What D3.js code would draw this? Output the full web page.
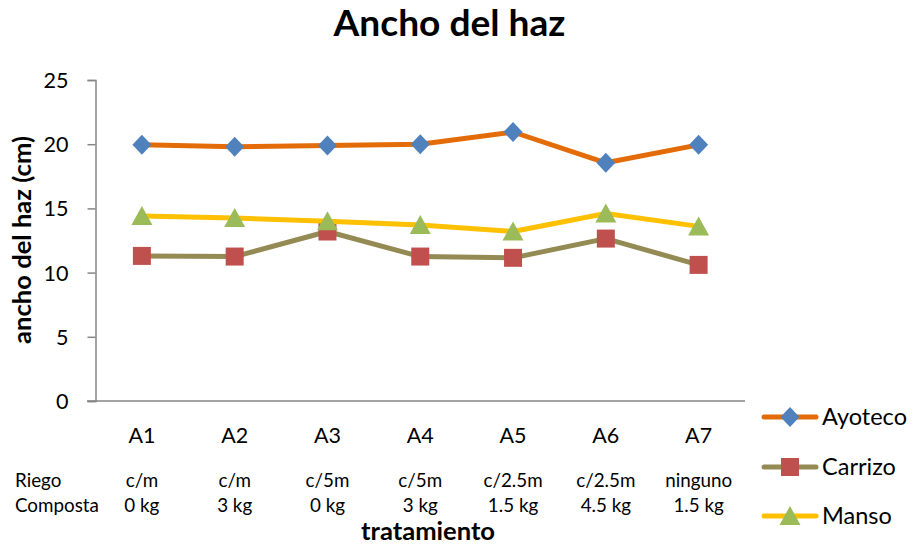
<!DOCTYPE html>
<html>
<head>
<meta charset="utf-8">
<script src="https://cdn.jsdelivr.net/npm/d3@7"></script>
<style>
  html, body { margin: 0; padding: 0; background: #fff; }
  svg { display: block; font-family: Lato, "Open Sans", sans-serif; }
</style>
</head>
<body>
<svg id="chart" width="914" height="548"></svg>
<script>
// ---------- data ----------
const categories = ["A1", "A2", "A3", "A4", "A5", "A6", "A7"];
const riego = ["c/m", "c/m", "c/5m", "c/5m", "c/2.5m", "c/2.5m", "ninguno"];
const composta = ["0 kg", "3 kg", "0 kg", "3 kg", "1.5 kg", "4.5 kg", "1.5 kg"];
const ayoteco = [19.95, 19.8, 19.9, 20.0, 20.95, 18.55, 19.95];
const carrizo = [11.3, 11.25, 13.2, 11.25, 11.15, 12.65, 10.6];
const manso = [14.4, 14.25, 14.0, 13.7, 13.2, 14.6, 13.6];
const yTicks = [0, 5, 10, 15, 20, 25];
const seriesNames = ["Ayoteco", "Carrizo", "Manso"];
const title = "Ancho del haz";
const yTitle = "ancho del haz (cm)";
const xTitle = "tratamiento";
const rowLabels = ["Riego", "Composta"];

// ---------- styles ----------
const styles = {
  Ayoteco: { line: "#E36C09", fill: "#4F81BD", shape: "diamond" },
  Carrizo: { line: "#948A54", fill: "#C0504D", shape: "square" },
  Manso:   { line: "#FFC000", fill: "#9BBB59", shape: "triangle" }
};
const series = [
  { name: seriesNames[0], values: ayoteco },
  { name: seriesNames[1], values: carrizo },
  { name: seriesNames[2], values: manso }
];

const svg = d3.select("#chart");

// font size fitting helper (approximates Calibri metrics with available fonts)
function fitSize(str, targetWidth, weight) {
  const t = svg.append("text").attr("font-size", 100).attr("font-weight", weight || "normal").text(str);
  const w = t.node().getComputedTextLength();
  t.remove();
  return 100 * targetWidth / w;
}
const fsTitle = fitSize(title, 232, "bold");
const fsTick = fitSize("25", 25);
const fsCat = fitSize("A1", 27);
const fsRow = fitSize("Composta", 84);
const fsLegend = fitSize("Ayoteco", 85);
const fsYTitle = fitSize(yTitle, 208, "bold");
const fsXTitle = fitSize(xTitle, 134, "bold");

// ---------- scales ----------
const x = d3.scaleBand().domain(categories).range([95.5, 745]);
const cx = c => x(c) + x.bandwidth() / 2;
const y = d3.scaleLinear().domain([0, 25]).range([401, 80]);

// ---------- axes ----------
const axisColor = "#868686";
const yAxis = d3.axisLeft(y).tickValues(yTicks).tickSize(8).tickPadding(0).tickFormat(d3.format("d"));
const gy = svg.append("g").attr("transform", "translate(95.5,0)").call(yAxis);
gy.select(".domain").attr("stroke", axisColor).attr("stroke-width", 1.5);
gy.selectAll(".tick line").attr("stroke", axisColor).attr("stroke-width", 1.5);
gy.selectAll(".tick text")
  .attr("x", -27).attr("dy", "0.35em")
  .attr("fill", "#000").attr("font-size", fsTick)
  .attr("font-family", "Lato, 'Open Sans', sans-serif");

const xAxis = d3.axisBottom(x).tickSize(0).tickPadding(0);
const gx = svg.append("g").attr("transform", "translate(0,401)").call(xAxis);
gx.select(".domain").attr("d", "M87,0H745").attr("stroke", axisColor).attr("stroke-width", 1.5);
gx.selectAll(".tick text")
  .attr("y", 42).attr("dy", 0)
  .attr("fill", "#000").attr("font-size", fsCat)
  .attr("font-family", "Lato, 'Open Sans', sans-serif");

// ---------- marker shapes ----------
function markerPath(shape) {
  if (shape === "diamond") return "M0,-10L9.5,0L0,10L-9.5,0Z";
  if (shape === "square") return "M-9,-9H9V9H-9Z";
  return "M0,-10L10.5,9L-10.5,9Z";
}

// ---------- series ----------
const line = d3.line().x((d, i) => cx(categories[i])).y(d => y(d));
series.forEach(s => {
  const st = styles[s.name];
  const g = svg.append("g");
  g.append("path").attr("d", line(s.values))
    .attr("fill", "none").attr("stroke", st.line).attr("stroke-width", 5)
    .attr("stroke-linejoin", "round").attr("stroke-linecap", "round");
  g.selectAll("path.m").data(s.values).join("path").attr("class", "m")
    .attr("transform", (d, i) => `translate(${cx(categories[i])},${y(d)})`)
    .attr("d", markerPath(st.shape))
    .attr("fill", st.fill);
});

// ---------- title ----------
svg.append("text").attr("x", 449.5).attr("y", 36).attr("text-anchor", "middle")
  .attr("font-weight", "bold").attr("font-size", fsTitle).text(title);

// ---------- axis titles ----------
svg.append("text").attr("transform", "translate(31,240) rotate(-90)")
  .attr("text-anchor", "middle").attr("font-weight", "bold").attr("font-size", fsYTitle)
  .text(yTitle);
svg.append("text").attr("x", 428).attr("y", 540).attr("text-anchor", "middle")
  .attr("font-weight", "bold").attr("font-size", fsXTitle).text(xTitle);

// ---------- treatment rows ----------
const rowY = [487, 512];
[riego, composta].forEach((row, r) => {
  svg.append("text").attr("x", 15).attr("y", rowY[r]).attr("font-size", fsRow).text(rowLabels[r]);
  svg.selectAll(null).data(row).join("text")
    .attr("x", (d, i) => cx(categories[i])).attr("y", rowY[r])
    .attr("text-anchor", "middle").attr("font-size", fsRow).text(d => d);
});

// ---------- legend ----------
const legY = [417, 467, 516];
series.forEach((s, i) => {
  const st = styles[s.name];
  const g = svg.append("g").attr("transform", `translate(0,${legY[i]})`);
  g.append("line").attr("x1", 764).attr("x2", 816).attr("y1", 0).attr("y2", 0)
    .attr("stroke", st.line).attr("stroke-width", 5).attr("stroke-linecap", "round");
  g.append("path").attr("transform", "translate(790,0)").attr("d", markerPath(st.shape)).attr("fill", st.fill);
  g.append("text").attr("x", 822).attr("y", 0).attr("dy", "0.35em")
    .attr("font-size", fsLegend).text(s.name);
});
</script>
</body>
</html>
